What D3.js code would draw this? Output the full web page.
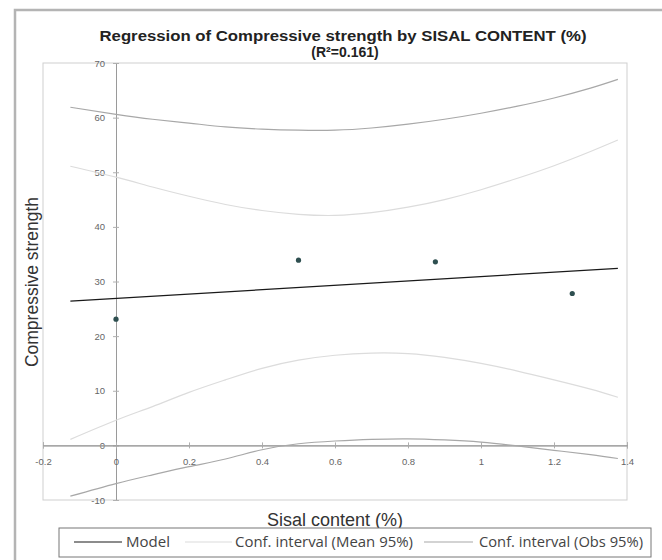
<!DOCTYPE html>
<html>
<head>
<meta charset="utf-8">
<script src="https://cdn.jsdelivr.net/npm/d3@7"></script>
<style>
  body { margin: 0; background: #fff; }
  text { font-family: "Liberation Sans", Arial, sans-serif; }
</style>
</head>
<body>
<div id="chart"></div>
<script>
// observations
var sisal = [0, 0.5, 0.875, 1.25];
var strength = [23.1, 33.9, 33.6, 27.8];

// fitted model line
var modelX = [-0.125, 1.375];
var modelY = [26.4, 32.4];

// confidence bands, sampled along x
var bandX     = [-0.125, 0, 0.1, 0.2, 0.3, 0.4, 0.5, 0.6, 0.7, 0.8, 0.9, 1.0, 1.1, 1.2, 1.3, 1.375];
var meanUpper = [51.1, 49.1, 47.3, 45.6, 44.1, 43.0, 42.3, 42.1, 42.6, 43.6, 45.0, 46.8, 48.9, 51.2, 53.8, 55.9];
var meanLower = [1.1, 4.6, 7.1, 9.7, 12.0, 14.1, 15.6, 16.5, 16.9, 16.8, 16.1, 15.0, 13.6, 12.0, 10.3, 8.8];
var obsUpper  = [61.9, 60.6, 59.7, 59.0, 58.3, 57.9, 57.7, 57.7, 58.1, 58.8, 59.7, 60.8, 62.1, 63.6, 65.4, 67.0];
var obsLower  = [-9.3, -7.0, -5.4, -3.9, -2.5, -0.8, 0.3, 0.8, 1.1, 1.2, 1.0, 0.6, -0.1, -0.9, -1.7, -2.4];

var xTicks = [-0.2, 0, 0.2, 0.4, 0.6, 0.8, 1, 1.2, 1.4];
var yTicks = [-10, 0, 10, 20, 30, 40, 50, 60, 70];

var legendLabels = ["Model", "Conf. interval (Mean 95%)", "Conf. interval (Obs 95%)"];
var colors = { model: "#1a1a1a", mean: "#dcdcdc", obs: "#a8a8a8", point: "#2e4f50" };

var svg = d3.select("#chart")
	.append("svg")
	.attr("width", 662)
	.attr("height", 560);

// outer frame
svg.append("rect")
	.attr("x", 15).attr("y", 10)
	.attr("width", 700).attr("height", 600)
	.attr("fill", "none")
	.attr("stroke", "#b4b4b4")
	.attr("stroke-width", 2.5);

var x = d3.scaleLinear().domain([-0.2, 1.4]).range([43, 627]);
var y = d3.scaleLinear().domain([-10, 70]).range([500, 63]);

// plot box
svg.append("rect")
	.attr("x", x(-0.2)).attr("y", y(70))
	.attr("width", x(1.4) - x(-0.2))
	.attr("height", y(-10) - y(70))
	.attr("fill", "none")
	.attr("stroke", "#cfcfcf");

// title
svg.append("text")
	.attr("x", 343).attr("y", 41)
	.attr("text-anchor", "middle")
	.attr("font-size", 14)
	.attr("font-weight", "bold")
	.attr("fill", "#222")
	.attr("textLength", 487)
	.attr("lengthAdjust", "spacingAndGlyphs")
	.text("Regression of Compressive strength by SISAL CONTENT (%)");
svg.append("text")
	.attr("x", 345).attr("y", 57)
	.attr("text-anchor", "middle")
	.attr("font-size", 14)
	.attr("font-weight", "bold")
	.attr("fill", "#222")
	.text("(R²=0.161)");

var fmt = function(d) { return String(+d.toFixed(1)); };

// axes through the origin
svg.append("g")
	.attr("transform", "translate(" + x(0) + ",0)")
	.call(d3.axisLeft(y).tickValues(yTicks).tickFormat(fmt).tickSize(3).tickPadding(8));
svg.append("g")
	.attr("transform", "translate(" + x(0) + ",0)")
	.call(d3.axisRight(y).tickValues(yTicks).tickFormat("").tickSize(3));

svg.append("g")
	.attr("transform", "translate(0," + y(0) + ")")
	.call(d3.axisBottom(x).tickValues(xTicks).tickFormat(fmt).tickSize(3).tickPadding(10));
svg.append("g")
	.attr("transform", "translate(0," + y(0) + ")")
	.call(d3.axisTop(x).tickValues(xTicks).tickFormat("").tickSize(3));

svg.selectAll(".domain").attr("stroke", "#9a9a9a");
svg.selectAll(".tick line").attr("stroke", "#b0b0b0");
svg.selectAll(".tick text")
	.attr("fill", "#666")
	.attr("font-size", 9.5)
	.style("font-family", "'Liberation Sans', Arial, sans-serif");

// axis titles
svg.append("text")
	.attr("x", 335).attr("y", 526)
	.attr("text-anchor", "middle")
	.attr("font-size", 18)
	.attr("fill", "#333")
	.text("Sisal content (%)");
svg.append("text")
	.attr("transform", "translate(38,282) rotate(-90)")
	.attr("text-anchor", "middle")
	.attr("font-size", 17.5)
	.attr("fill", "#333")
	.text("Compressive strength");

// curves
var line = d3.line()
	.x(function(d) { return x(d[0]); })
	.y(function(d) { return y(d[1]); })
	.curve(d3.curveNatural);

function pairs(xs, ys) { return xs.map(function(v, i) { return [v, ys[i]]; }); }

var bands = [
	{ values: obsUpper, color: colors.obs },
	{ values: obsLower, color: colors.obs },
	{ values: meanUpper, color: colors.mean },
	{ values: meanLower, color: colors.mean }
];
svg.selectAll(".band")
	.data(bands)
	.enter().append("path")
	.attr("class", "band")
	.attr("d", function(d) { return line(pairs(bandX, d.values)); })
	.attr("fill", "none")
	.attr("stroke", function(d) { return d.color; })
	.attr("stroke-width", 1.2);

svg.append("path")
	.attr("d", line(pairs(modelX, modelY)))
	.attr("fill", "none")
	.attr("stroke", colors.model)
	.attr("stroke-width", 1.2);

svg.selectAll(".pt")
	.data(pairs(sisal, strength))
	.enter().append("circle")
	.attr("class", "pt")
	.attr("cx", function(d) { return x(d[0]); })
	.attr("cy", function(d) { return y(d[1]); })
	.attr("r", 2.6)
	.attr("fill", colors.point);

// legend
var legend = svg.append("g");
legend.append("rect")
	.attr("x", 59).attr("y", 528)
	.attr("width", 592).attr("height", 29)
	.attr("fill", "#fff")
	.attr("stroke", "#777");

var legendItems = [
	{ label: legendLabels[0], color: colors.model, x1: 74, x2: 122, tx: 126, w: 44 },
	{ label: legendLabels[1], color: colors.mean, x1: 185, x2: 232, tx: 235, w: 178 },
	{ label: legendLabels[2], color: colors.obs, x1: 424, x2: 473, tx: 479, w: 164 }
];
var item = legend.selectAll(".item")
	.data(legendItems)
	.enter().append("g")
	.attr("class", "item");
item.append("line")
	.attr("x1", function(d) { return d.x1; })
	.attr("x2", function(d) { return d.x2; })
	.attr("y1", 542).attr("y2", 542)
	.attr("stroke", function(d) { return d.color; })
	.attr("stroke-width", 1.2);
item.append("text")
	.attr("x", function(d) { return d.tx; })
	.attr("y", 547)
	.attr("font-size", 14)
	.attr("fill", "#444")
	.attr("textLength", function(d) { return d.w; })
	.attr("lengthAdjust", "spacingAndGlyphs")
	.style("font-family", "'Open Sans', sans-serif")
	.text(function(d) { return d.label; });
</script>
</body>
</html>
